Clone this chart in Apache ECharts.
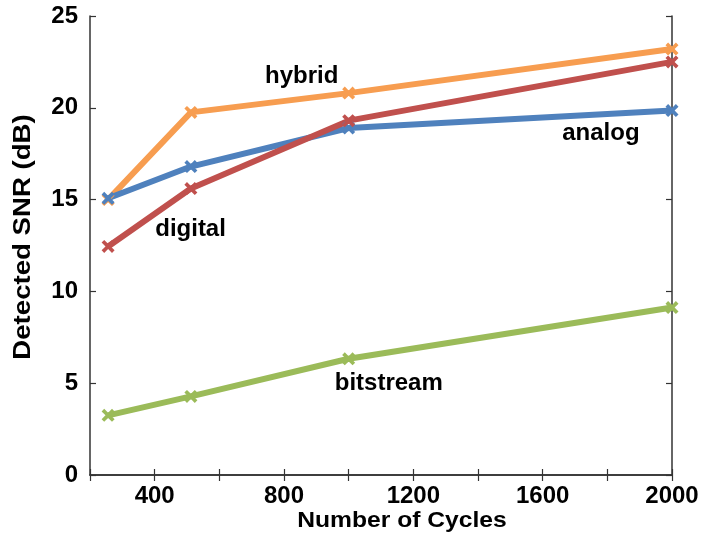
<!DOCTYPE html>
<html>
<head>
<meta charset="utf-8">
<script src="https://cdn.jsdelivr.net/npm/echarts@6/dist/echarts.min.js"></script>
<style>html,body{margin:0;padding:0;background:#fff}#c{width:701px;height:533px}</style>
</head>
<body>
<div id="c"></div>
<script>
var cycles = [256, 512, 1000, 2000];
var hybrid = [15.0, 19.75, 20.8, 23.2];
var digital = [12.45, 15.6, 19.3, 22.5];
var analog = [15.07, 16.8, 18.9, 19.85];
var bitstream = [3.25, 4.28, 6.33, 9.12];
var seriesNames = ['hybrid', 'digital', 'analog', 'bitstream'];
var labelPos = [[855, 21.7], [511, 13.4], [1780, 18.6], [1124, 5.0]];
var xTicks = [400, 800, 1200, 1600, 2000];
var xTitle = 'Number of Cycles';
var yTitle = 'Detected SNR (dB)';

function pairs(ys) { return cycles.map(function (c, i) { return [c, ys[i]]; }); }

var FONT = 'Liberation Sans, Arial, sans-serif';
var axisCol = '#333';
var TXT = '#000';
var cross = 'path://M2,0 L5,3 L8,0 L10,2 L7,5 L10,8 L8,10 L5,7 L2,10 L0,8 L3,5 L0,2 Z';

function lineSeries(name, ys, color) {
  return {
    name: name, type: 'line', data: pairs(ys),
    symbol: cross, symbolSize: 13, showSymbol: true,
    lineStyle: { color: color, width: 6 },
    itemStyle: { color: color },
    emphasis: { disabled: true }, animation: false, z: 3
  };
}

var chart = echarts.init(document.getElementById('c'), null, { renderer: 'canvas' });
chart.setOption({
  animation: false,
  grid: { left: 90, right: 29, top: 16, bottom: 58, containLabel: false, outerBoundsMode: 'none' },
  graphic: [{
    type: 'text', x: 24, y: 237, rotation: Math.PI / 2, scaleX: 1.2, silent: true,
    style: {
      text: yTitle, fill: TXT, font: 'bold 23px ' + FONT,
      align: 'center', verticalAlign: 'middle'
    }
  }, {
    type: 'text', x: 402, y: 521, scaleX: 1.12, silent: true,
    style: {
      text: xTitle, fill: TXT, font: 'bold 22px ' + FONT,
      align: 'center', verticalAlign: 'middle'
    }
  }],
  xAxis: [{
    type: 'value', min: 200, max: 2000, interval: 200,
    axisLine: { show: true, lineStyle: { color: axisCol, width: 1.5 } },
    axisTick: { show: true, inside: true, length: 6, lineStyle: { color: axisCol, width: 1.2 } },
    axisLabel: {
      fontFamily: FONT, fontWeight: 'bold', fontSize: 24, color: TXT, margin: 9,
      formatter: function (v) { return xTicks.indexOf(v) >= 0 ? String(v) : ''; }
    },
    splitLine: { show: false }
  }, {
    type: 'value', min: 200, max: 2000, interval: 200, position: 'top',
    axisLine: { show: true, lineStyle: { color: axisCol, width: 1.5 } },
    axisTick: { show: true, inside: true, length: 6, lineStyle: { color: axisCol, width: 1.2 } },
    axisLabel: { show: false }, splitLine: { show: false }
  }],
  yAxis: [{
    type: 'value', min: 0, max: 25, interval: 5,
    axisLine: { show: true, lineStyle: { color: axisCol, width: 1.5 } },
    axisTick: { show: true, inside: true, length: 6, lineStyle: { color: axisCol, width: 1.2 } },
    axisLabel: { fontFamily: FONT, fontWeight: 'bold', fontSize: 24, color: TXT, margin: 12 },
    splitLine: { show: false }
  }, {
    type: 'value', min: 0, max: 25, interval: 5, position: 'right',
    axisLine: { show: true, lineStyle: { color: axisCol, width: 1.5 } },
    axisTick: { show: true, inside: true, length: 6, lineStyle: { color: axisCol, width: 1.2 } },
    axisLabel: { show: false }, splitLine: { show: false }
  }],
  series: [
    lineSeries('bitstream', bitstream, '#9BBB59'),
    lineSeries('hybrid', hybrid, '#F79D50'),
    lineSeries('analog', analog, '#4F81BD'),
    lineSeries('digital', digital, '#C0504D'),
    {
      type: 'scatter', symbolSize: 0, z: 5, silent: true,
      itemStyle: { opacity: 1 },
      data: seriesNames.map(function (n, i) { return { name: n, value: labelPos[i] }; }),
      label: {
        show: true, position: 'inside', formatter: '{b}', opacity: 1,
        textBorderWidth: 0, textShadowBlur: 0,
        fontFamily: FONT, fontWeight: 'bold', fontSize: 24, color: TXT
      }
    }
  ]
});
</script>
</body>
</html>
